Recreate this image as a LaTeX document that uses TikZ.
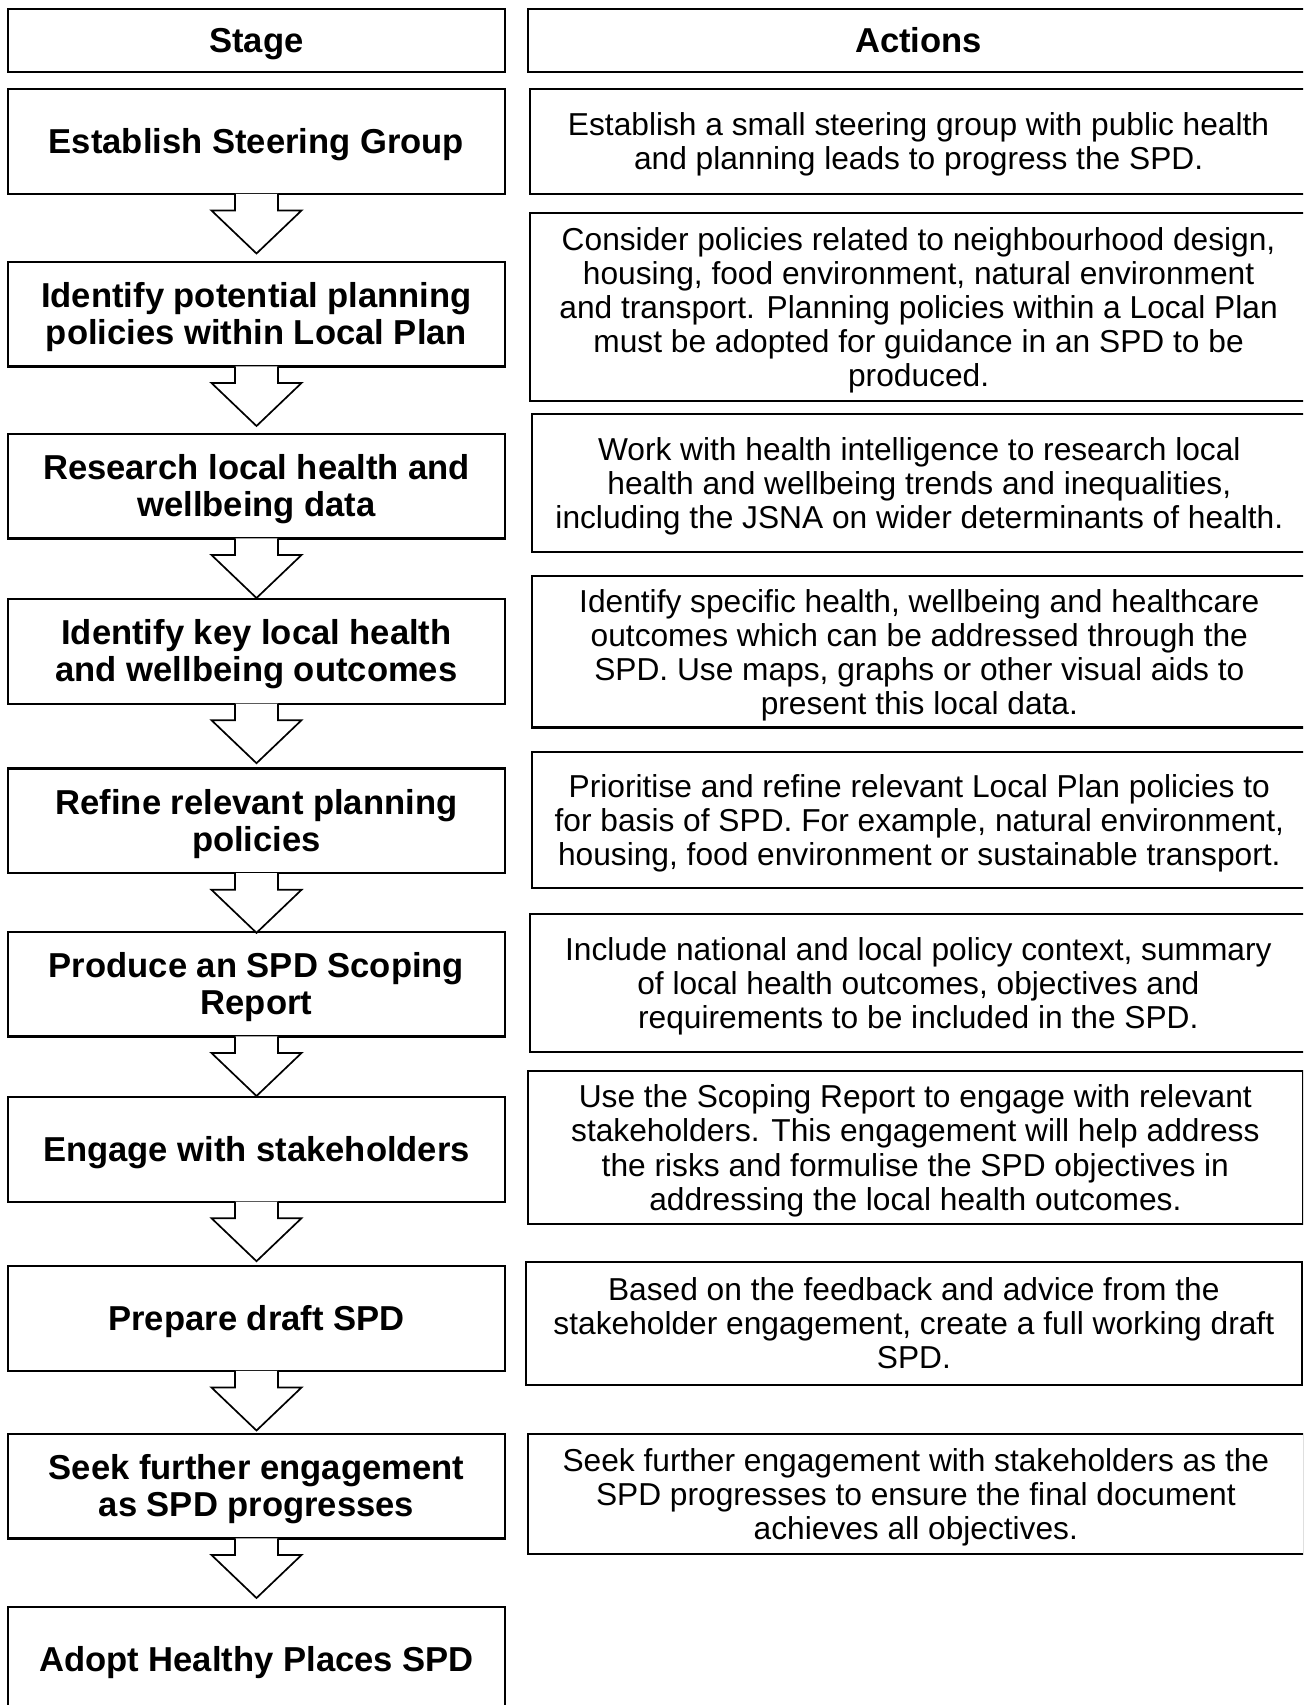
\documentclass[tikz,border=0pt]{standalone}
\usepackage{fontspec}
\setmainfont{Liberation Sans}

\begin{document}
\begin{tikzpicture}[
    x=0.5pt, y=-0.5pt,
    stagebox/.style={rectangle, draw, line width=1.1pt, minimum width=248.5pt, minimum height=52.4pt, inner sep=0pt, anchor=north, align=center, font=\fontsize{17.3}{18.5}\selectfont\bfseries, text depth=0.3pt},
    head/.style={stagebox, minimum height=31.5pt, text height=15.5pt, text depth=3.6pt},
    actbox/.style={rectangle, draw, line width=1.1pt, inner sep=0pt, anchor=north west, align=center, font=\fontsize{15.85}{17.05}\selectfont, text depth=0pt},
    blockarrow/.style={draw, fill=white, line width=0.85pt, line join=miter}
]
\useasboundingbox (0,0) rectangle (1303,1705);
\clip (0,0) rectangle (1303,1705);

% column heads
\node[head] (stagehead) at (256.5,7.5) {Stage};
\node[head, anchor=north west, minimum width=390.5pt] (acthead) at (527,7.5) {Actions};

% stages
\node[stagebox] (steer) at (256.5,88) {Establish Steering Group};
\node[stagebox] (policies) at (256.5,260.5) {Identify potential planning\\policies within Local Plan};
\node[stagebox] (research) at (256.5,432.5) {Research local health and\\wellbeing data};
\node[stagebox] (outcomes) at (256.5,597.7) {Identify key local health\\and wellbeing outcomes};
\node[stagebox] (refine) at (256.5,767.3) {Refine relevant planning\\policies};
\node[stagebox] (scoping) at (256.5,930.5) {Produce an SPD Scoping\\Report};
\node[stagebox] (engage) at (256.5,1095.7) {Engage with stakeholders};
\node[stagebox] (draft) at (256.5,1265) {Prepare draft SPD};
\node[stagebox] (further) at (256.5,1432.5) {Seek further engagement\\as SPD progresses};
\node[stagebox] (adopt) at (256.5,1606) {Adopt Healthy Places SPD};

% actions
\node[actbox, minimum width=388.5pt, minimum height=52.3pt] (steer-act) at (529,88) {Establish a small steering group with public health\\and planning leads to progress the SPD.};
\node[actbox, minimum width=388.5pt, minimum height=94pt] (policies-act) at (529,212) {Consider policies related to neighbourhood design,\\housing, food environment, natural environment\\and transport. Planning policies within a Local Plan\\must be adopted for guidance in an SPD to be\\produced.};
\node[actbox, minimum width=387.75pt, minimum height=69.25pt] (research-act) at (530.5,412.5) {Work with health intelligence to research local\\health and wellbeing trends and inequalities,\\including the JSNA on wider determinants of health.};
\node[actbox, minimum width=387.75pt, minimum height=75.65pt] (outcomes-act) at (530.5,575) {Identify specific health, wellbeing and healthcare\\outcomes which can be addressed through the\\SPD. Use maps, graphs or other visual aids to\\present this local data.};
\node[actbox, minimum width=387.75pt, minimum height=68.2pt] (refine-act) at (530.5,750.6) {Prioritise and refine relevant Local Plan policies to\\for basis of SPD. For example, natural environment,\\housing, food environment or sustainable transport.};
\node[actbox, minimum width=388.75pt, minimum height=69pt] (scoping-act) at (528.5,913) {Include national and local policy context, summary\\of local health outcomes, objectives and\\requirements to be included in the SPD.};
\node[actbox, minimum width=387.25pt, minimum height=76.35pt] (engage-act) at (527,1070) {Use the Scoping Report to engage with relevant\\stakeholders. This engagement will help address\\the risks and formulise the SPD objectives in\\addressing the local health outcomes.};
\node[actbox, minimum width=387.75pt, minimum height=61.25pt, text depth=-1.8pt] (draft-act) at (525,1261) {Based on the feedback and advice from the\\stakeholder engagement, create a full working draft\\SPD.};
\node[actbox, minimum width=387.75pt, minimum height=59.75pt] (further-act) at (527,1433) {Seek further engagement with stakeholders as the\\SPD progresses to ensure the final document\\achieves all objectives.};

% block arrows between stages
\filldraw[blockarrow] (steer.south) ++(-21.5,-1.1) -- ++(0,16.6) -- ++(-23.5,0) -- ++(45,43) -- ++(45,-43) -- ++(-23.5,0) -- ++(0,-16.6);
\filldraw[blockarrow] (policies.south) ++(-21.5,-1.1) -- ++(0,16.6) -- ++(-23.5,0) -- ++(45,43) -- ++(45,-43) -- ++(-23.5,0) -- ++(0,-16.6);
\filldraw[blockarrow] (research.south) ++(-21.5,-1.1) -- ++(0,16.6) -- ++(-23.5,0) -- ++(45,43) -- ++(45,-43) -- ++(-23.5,0) -- ++(0,-16.6);
\filldraw[blockarrow] (outcomes.south) ++(-21.5,-1.1) -- ++(0,16.6) -- ++(-23.5,0) -- ++(45,43) -- ++(45,-43) -- ++(-23.5,0) -- ++(0,-16.6);
\filldraw[blockarrow] (refine.south) ++(-21.5,-1.1) -- ++(0,16.6) -- ++(-23.5,0) -- ++(45,43) -- ++(45,-43) -- ++(-23.5,0) -- ++(0,-16.6);
\filldraw[blockarrow] (scoping.south) ++(-21.5,-1.1) -- ++(0,16.6) -- ++(-23.5,0) -- ++(45,43) -- ++(45,-43) -- ++(-23.5,0) -- ++(0,-16.6);
\filldraw[blockarrow] (engage.south) ++(-21.5,-1.1) -- ++(0,16.6) -- ++(-23.5,0) -- ++(45,43) -- ++(45,-43) -- ++(-23.5,0) -- ++(0,-16.6);
\filldraw[blockarrow] (draft.south) ++(-21.5,-1.1) -- ++(0,16.6) -- ++(-23.5,0) -- ++(45,43) -- ++(45,-43) -- ++(-23.5,0) -- ++(0,-16.6);
\filldraw[blockarrow] (further.south) ++(-21.5,-1.1) -- ++(0,16.6) -- ++(-23.5,0) -- ++(45,43) -- ++(45,-43) -- ++(-23.5,0) -- ++(0,-16.6);

\end{tikzpicture}
\end{document}
